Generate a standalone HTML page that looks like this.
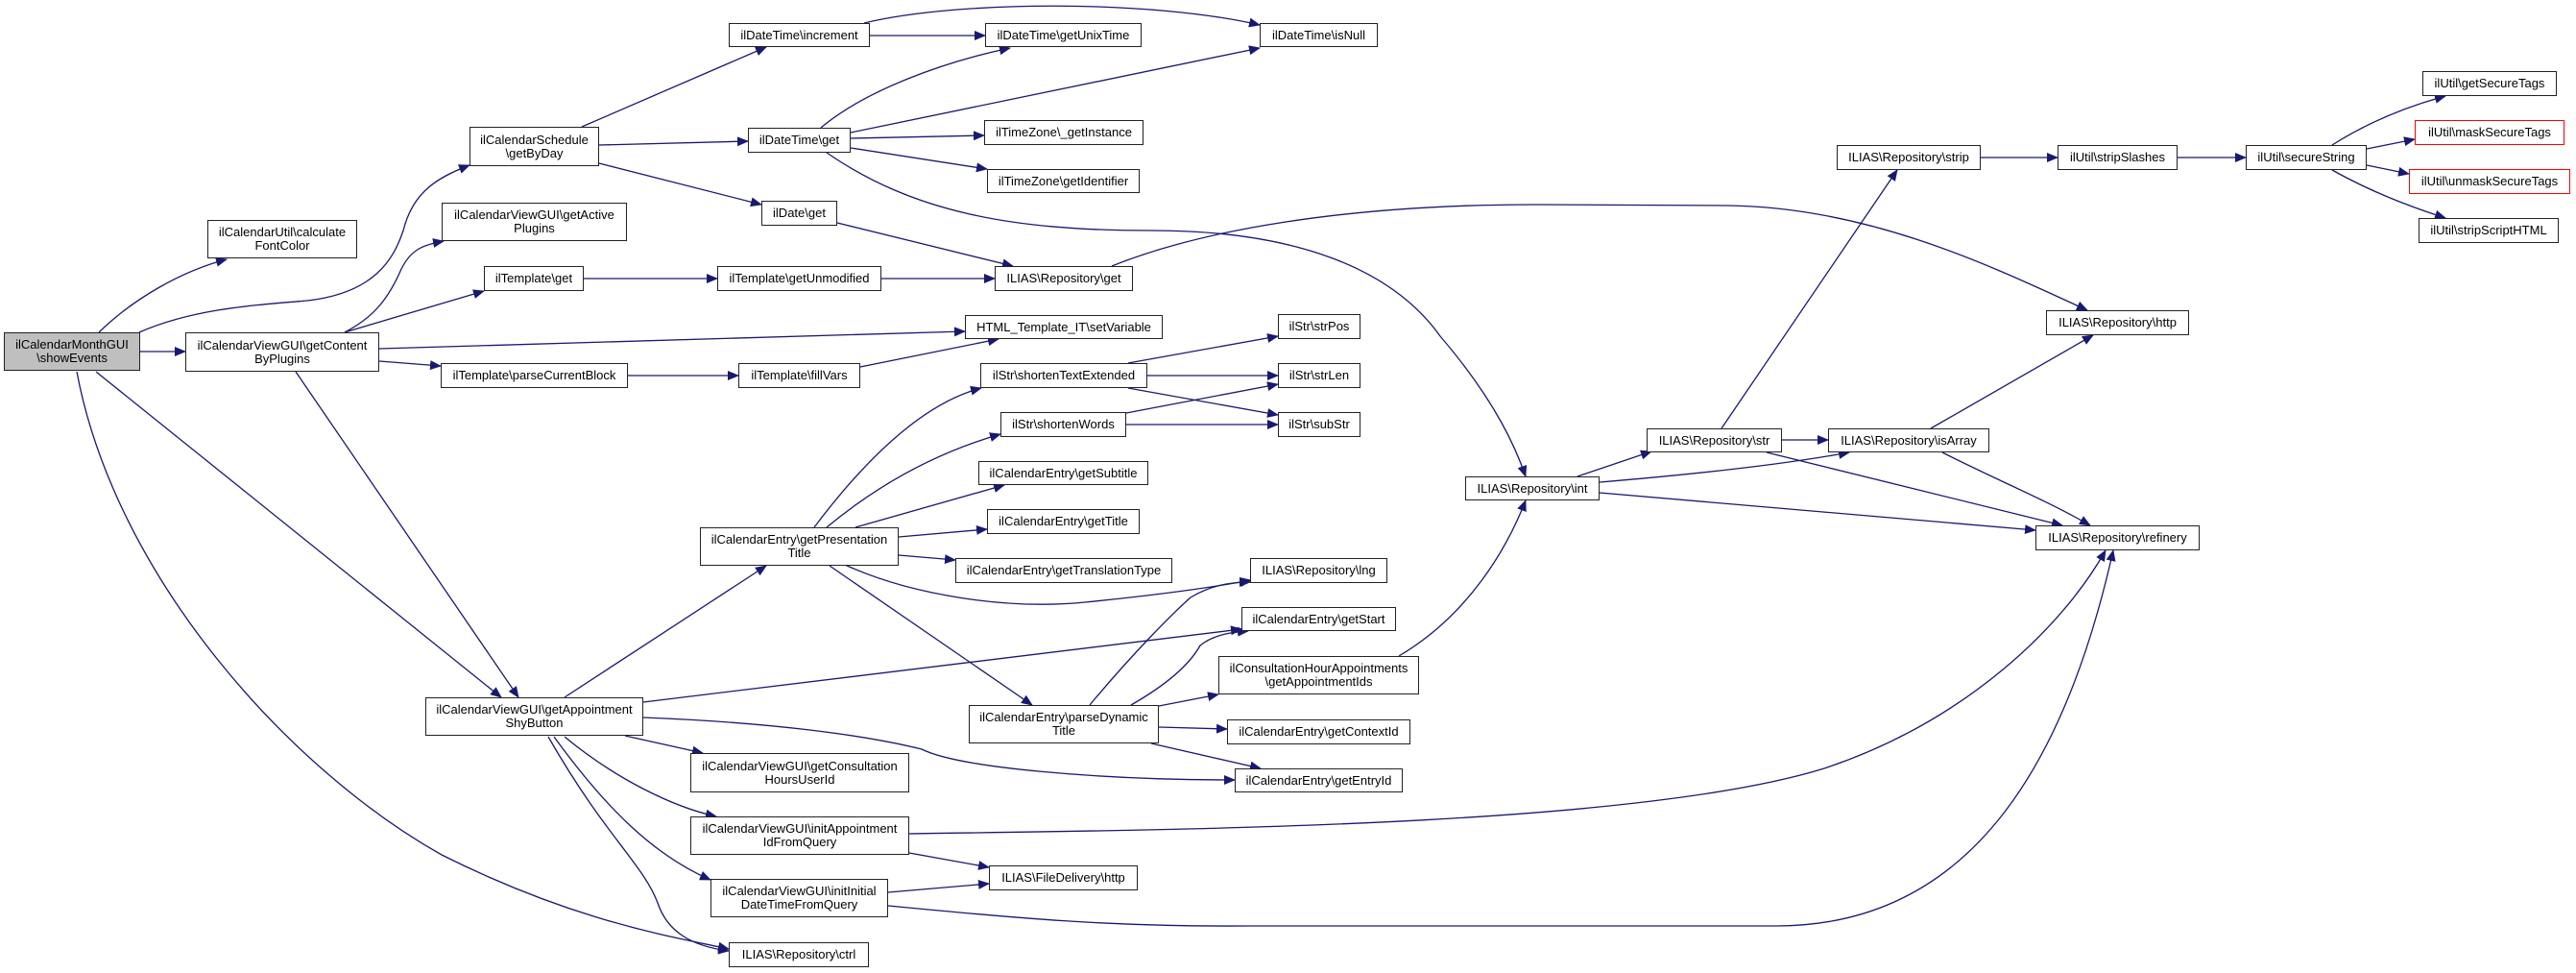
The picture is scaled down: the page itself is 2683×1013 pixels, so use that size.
<!DOCTYPE html>
<html><head><meta charset="utf-8"><style>
body{margin:0;background:#fff;}
#c{position:relative;width:2683px;height:1013px;overflow:hidden;background:#fff;}
.n{position:absolute;box-sizing:border-box;border:1.5px solid #222;background:#fff;font-family:"Liberation Sans",sans-serif;font-size:13px;line-height:14px;color:#000;display:flex;align-items:center;justify-content:center;text-align:center;white-space:nowrap;}
.r{border-color:#f00;}
svg{position:absolute;left:0;top:0;}
</style></head><body><div id="c">
<svg width="2683" height="1013" viewBox="0 0 2683 1013">
<defs><marker id="a" markerWidth="12" markerHeight="10" refX="11" refY="5" orient="auto" markerUnits="userSpaceOnUse"><path d="M0,0 L12,5 L0,10 z" fill="#191970"/></marker></defs>
<g fill="none" stroke="#191970" stroke-width="1.3" marker-end="url(#a)">
<path d="M103,346 C140,310 190,282 236,270"/>
<path d="M145,346 C200,322 260,318 320,313 C390,305 410,270 420,240 C430,200 455,185 489,172"/>
<path d="M146,366 L193,366"/>
<path d="M100,387 L522,726"/>
<path d="M80,387 C120,600 300,800 460,890 C600,960 700,975 759,988"/>
<path d="M359,346 C390,330 405,310 418,280 C428,260 440,255 462,251"/>
<path d="M359,346 L504,303"/>
<path d="M395,363 L1005,345"/>
<path d="M395,376 L459,381"/>
<path d="M308,387 L540,726"/>
<path d="M606,132 L798,49"/>
<path d="M624,151 L779,147"/>
<path d="M624,170 L793,213"/>
<path d="M906,37 L1026,37"/>
<path d="M900,24 C1000,0 1200,0 1312,26"/>
<path d="M855,133 C900,95 980,65 1052,50"/>
<path d="M886,138 L1312,50"/>
<path d="M886,144 L1025,141"/>
<path d="M886,154 L1028,176"/>
<path d="M861,159 C950,220 1050,240 1200,240 C1350,240 1450,280 1500,350 C1560,420 1580,470 1589,496"/>
<path d="M872,232 L1055,277"/>
<path d="M608,290 L747,290"/>
<path d="M918,290 L1036,290"/>
<path d="M1158,277 C1250,240 1400,213 1600,213 L1800,214 C1950,216 2080,280 2174,323"/>
<path d="M654,391 L769,391"/>
<path d="M896,382 L1040,353"/>
<path d="M848,549 C900,480 960,420 1022,404"/>
<path d="M861,549 C920,500 980,470 1042,452"/>
<path d="M891,549 L1046,505"/>
<path d="M936,559 L1028,551"/>
<path d="M936,578 L995,583"/>
<path d="M880,588 C950,620 1050,635 1130,627 C1200,620 1260,612 1303,604"/>
<path d="M864,589 L1075,734"/>
<path d="M588,726 L798,589"/>
<path d="M670,731 L1293,655"/>
<path d="M670,747 C800,752 900,765 960,780 C1000,800 1150,812 1286,812"/>
<path d="M651,766 L732,784"/>
<path d="M588,767 C640,810 700,840 746,850"/>
<path d="M577,767 C630,840 680,890 740,916"/>
<path d="M571,767 C630,870 670,900 685,940 C695,970 720,985 759,990"/>
<path d="M947,868 C1200,864 1700,862 1900,800 C2050,750 2150,650 2193,573"/>
<path d="M947,888 L1030,903"/>
<path d="M925,929 L1030,920"/>
<path d="M925,943 C1050,955 1150,965 1300,964 L1850,964 C2050,964 2150,800 2201,573"/>
<path d="M1135,734 C1180,680 1220,640 1240,622 C1260,610 1280,606 1302,606"/>
<path d="M1178,734 C1220,710 1240,690 1250,672 C1265,660 1285,658 1300,657"/>
<path d="M1207,735 L1269,723"/>
<path d="M1207,757 L1278,759"/>
<path d="M1199,774 L1313,800"/>
<path d="M1457,683 C1530,640 1570,570 1589,521"/>
<path d="M1175,378 L1331,350"/>
<path d="M1195,391 L1331,391"/>
<path d="M1175,404 L1331,432"/>
<path d="M1173,430 L1331,400"/>
<path d="M1173,442 L1331,442"/>
<path d="M1643,496 L1720,470"/>
<path d="M1666,502 C1750,495 1850,485 1926,471"/>
<path d="M1666,513 L2120,552"/>
<path d="M1793,446 L1976,177"/>
<path d="M1856,458 L1904,458"/>
<path d="M1840,471 L2148,547"/>
<path d="M2011,446 L2180,349"/>
<path d="M2023,471 C2080,500 2130,520 2177,547"/>
<path d="M2063,164 L2143,164"/>
<path d="M2268,164 L2339,164"/>
<path d="M2429,151 C2470,125 2510,110 2547,100"/>
<path d="M2465,155 L2515,145"/>
<path d="M2465,172 L2509,181"/>
<path d="M2429,177 C2470,200 2510,215 2547,227"/>
</g></svg>
<div class="n" style="left:4px;top:346px;width:142px;height:40px;background:#bfbfbf">ilCalendarMonthGUI<br>\showEvents</div>
<div class="n" style="left:216px;top:229px;width:156px;height:40px">ilCalendarUtil\calculate<br>FontColor</div>
<div class="n" style="left:193px;top:346px;width:202px;height:41px">ilCalendarViewGUI\getContent<br>ByPlugins</div>
<div class="n" style="left:489px;top:132px;width:135px;height:41px">ilCalendarSchedule<br>\getByDay</div>
<div class="n" style="left:460px;top:211px;width:193px;height:40px">ilCalendarViewGUI\getActive<br>Plugins</div>
<div class="n" style="left:504px;top:277px;width:104px;height:26px">ilTemplate\get</div>
<div class="n" style="left:459px;top:378px;width:195px;height:26px">ilTemplate\parseCurrentBlock</div>
<div class="n" style="left:759px;top:24px;width:147px;height:25px">ilDateTime\increment</div>
<div class="n" style="left:779px;top:133px;width:107px;height:26px">ilDateTime\get</div>
<div class="n" style="left:793px;top:209px;width:79px;height:26px">ilDate\get</div>
<div class="n" style="left:747px;top:277px;width:171px;height:26px">ilTemplate\getUnmodified</div>
<div class="n" style="left:769px;top:378px;width:127px;height:26px">ilTemplate\fillVars</div>
<div class="n" style="left:1026px;top:24px;width:163px;height:25px">ilDateTime\getUnixTime</div>
<div class="n" style="left:1312px;top:24px;width:123px;height:25px">ilDateTime\isNull</div>
<div class="n" style="left:1025px;top:125px;width:166px;height:26px">ilTimeZone\_getInstance</div>
<div class="n" style="left:1028px;top:176px;width:159px;height:25px">ilTimeZone\getIdentifier</div>
<div class="n" style="left:1036px;top:277px;width:144px;height:26px">ILIAS\Repository\get</div>
<div class="n" style="left:1005px;top:328px;width:206px;height:25px">HTML_Template_IT\setVariable</div>
<div class="n" style="left:1331px;top:327px;width:86px;height:26px">ilStr\strPos</div>
<div class="n" style="left:1021px;top:378px;width:174px;height:26px">ilStr\shortenTextExtended</div>
<div class="n" style="left:1331px;top:378px;width:86px;height:26px">ilStr\strLen</div>
<div class="n" style="left:1042px;top:429px;width:131px;height:26px">ilStr\shortenWords</div>
<div class="n" style="left:1331px;top:429px;width:86px;height:26px">ilStr\subStr</div>
<div class="n" style="left:1019px;top:480px;width:177px;height:25px">ilCalendarEntry\getSubtitle</div>
<div class="n" style="left:1526px;top:496px;width:140px;height:25px">ILIAS\Repository\int</div>
<div class="n" style="left:729px;top:549px;width:207px;height:40px">ilCalendarEntry\getPresentation<br>Title</div>
<div class="n" style="left:443px;top:726px;width:227px;height:40px">ilCalendarViewGUI\getAppointment<br>ShyButton</div>
<div class="n" style="left:719px;top:784px;width:228px;height:41px">ilCalendarViewGUI\getConsultation<br>HoursUserId</div>
<div class="n" style="left:719px;top:850px;width:228px;height:40px">ilCalendarViewGUI\initAppointment<br>IdFromQuery</div>
<div class="n" style="left:740px;top:915px;width:185px;height:40px">ilCalendarViewGUI\initInitial<br>DateTimeFromQuery</div>
<div class="n" style="left:759px;top:981px;width:146px;height:26px">ILIAS\Repository\ctrl</div>
<div class="n" style="left:1028px;top:530px;width:159px;height:26px">ilCalendarEntry\getTitle</div>
<div class="n" style="left:995px;top:581px;width:226px;height:26px">ilCalendarEntry\getTranslationType</div>
<div class="n" style="left:1302px;top:581px;width:143px;height:26px">ILIAS\Repository\lng</div>
<div class="n" style="left:1293px;top:632px;width:161px;height:25px">ilCalendarEntry\getStart</div>
<div class="n" style="left:1269px;top:683px;width:209px;height:40px">ilConsultationHourAppointments<br>\getAppointmentIds</div>
<div class="n" style="left:1009px;top:734px;width:198px;height:40px">ilCalendarEntry\parseDynamic<br>Title</div>
<div class="n" style="left:1278px;top:749px;width:191px;height:26px">ilCalendarEntry\getContextId</div>
<div class="n" style="left:1286px;top:800px;width:175px;height:25px">ilCalendarEntry\getEntryId</div>
<div class="n" style="left:1030px;top:901px;width:155px;height:26px">ILIAS\FileDelivery\http</div>
<div class="n" style="left:1913px;top:151px;width:150px;height:26px">ILIAS\Repository\strip</div>
<div class="n" style="left:2143px;top:151px;width:125px;height:26px">ilUtil\stripSlashes</div>
<div class="n" style="left:2339px;top:151px;width:126px;height:26px">ilUtil\secureString</div>
<div class="n" style="left:2523px;top:74px;width:140px;height:26px">ilUtil\getSecureTags</div>
<div class="n r" style="left:2515px;top:125px;width:156px;height:26px">ilUtil\maskSecureTags</div>
<div class="n r" style="left:2509px;top:176px;width:168px;height:26px">ilUtil\unmaskSecureTags</div>
<div class="n" style="left:2519px;top:227px;width:146px;height:26px">ilUtil\stripScriptHTML</div>
<div class="n" style="left:2131px;top:323px;width:149px;height:26px">ILIAS\Repository\http</div>
<div class="n" style="left:1715px;top:446px;width:141px;height:25px">ILIAS\Repository\str</div>
<div class="n" style="left:1904px;top:446px;width:168px;height:25px">ILIAS\Repository\isArray</div>
<div class="n" style="left:2120px;top:547px;width:171px;height:26px">ILIAS\Repository\refinery</div>
</div></body></html>
